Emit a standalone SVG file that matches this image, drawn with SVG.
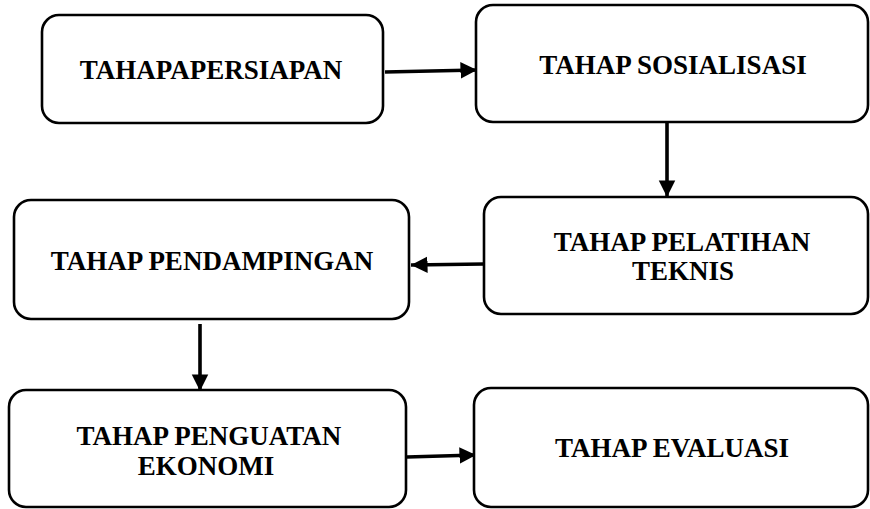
<svg xmlns="http://www.w3.org/2000/svg" width="870" height="509" viewBox="0 0 870 509">
  <defs>
    <marker id="ah" viewBox="0 0 10 10" refX="10" refY="5" markerWidth="4.6" markerHeight="4.8" markerUnits="strokeWidth" orient="auto">
      <path d="M0,0 L10,5 L0,10 Z" fill="#000"/>
    </marker>
  </defs>
  <style>
    .box { fill: #fff; stroke: #000; stroke-width: 2.6; }
    .lbl { font-family: 'Liberation Serif', serif; font-weight: 700; font-size: 27px; fill: #000; text-anchor: middle; }
    .con { stroke: #000; stroke-width: 3.6; fill: none; marker-end: url(#ah); }
  </style>
  <rect width="870" height="509" fill="#fff"/>
  <g id="connectors">
    <line class="con" x1="385" y1="72" x2="477" y2="70"/>
    <line class="con" x1="667" y1="123" x2="667" y2="197"/>
    <line class="con" x1="484" y1="264" x2="411" y2="265"/>
    <line class="con" x1="200" y1="324" x2="200" y2="391"/>
    <line class="con" x1="407" y1="457" x2="476" y2="455"/>
  </g>
  <g id="persiapan">
    <rect class="box" x="42" y="15" width="341" height="108" rx="17"/>
    <text class="lbl" x="211" y="79">TAHAPAPERSIAPAN</text>
  </g>
  <g id="sosialisasi">
    <rect class="box" x="476" y="5" width="392" height="117" rx="17"/>
    <text class="lbl" x="673" y="74">TAHAP SOSIALISASI</text>
  </g>
  <g id="pelatihan">
    <rect class="box" x="484" y="197" width="384" height="117" rx="17"/>
    <text class="lbl" x="682" y="251">TAHAP PELATIHAN</text>
    <text class="lbl" x="683" y="280">TEKNIS</text>
  </g>
  <g id="pendampingan">
    <rect class="box" x="14" y="200" width="395" height="119" rx="17"/>
    <text class="lbl" x="212" y="270">TAHAP PENDAMPINGAN</text>
  </g>
  <g id="penguatan">
    <rect class="box" x="9" y="390" width="397" height="117" rx="17"/>
    <text class="lbl" x="209" y="445">TAHAP PENGUATAN</text>
    <text class="lbl" x="206" y="475">EKONOMI</text>
  </g>
  <g id="evaluasi">
    <rect class="box" x="474" y="388" width="394" height="119" rx="17"/>
    <text class="lbl" x="672" y="457">TAHAP EVALUASI</text>
  </g>
</svg>
